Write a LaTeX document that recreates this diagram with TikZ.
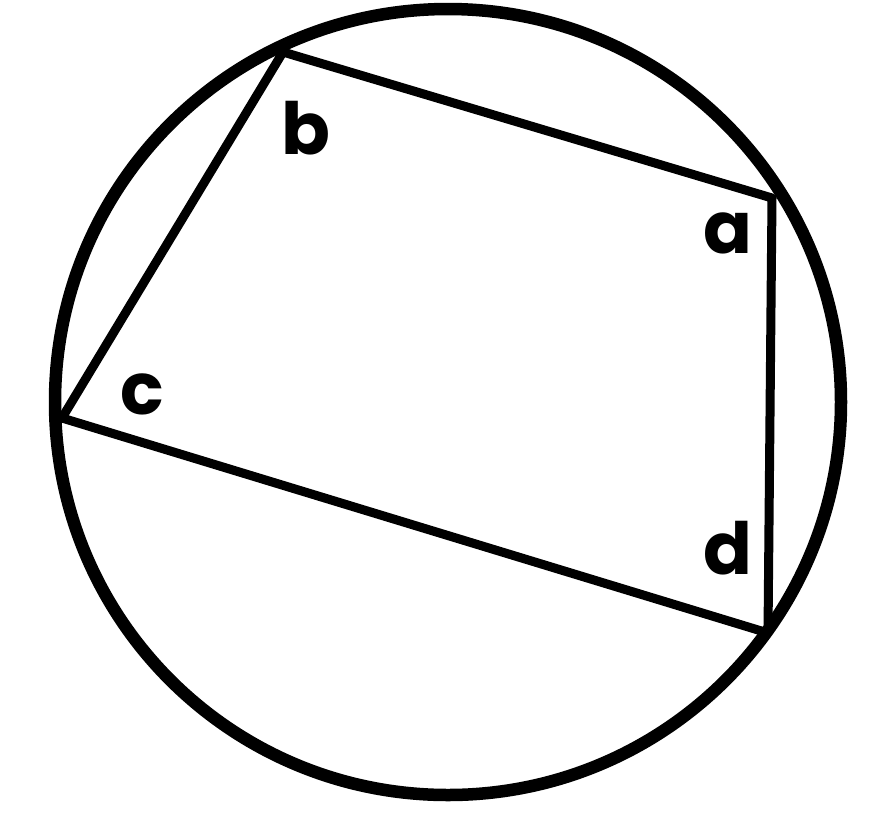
\documentclass[tikz,border=0pt]{standalone}
\usepackage{fontspec}
\setmainfont{Poppins}
\begin{document}
\begin{tikzpicture}[x=1pt,y=-1pt,
  rim/.style={line width=12.5pt},
  side/.style={line width=9pt, line join=round, line cap=round},
  lbl/.style={font=\fontsize{72}{72}\selectfont\bfseries, inner sep=0pt}]
\useasboundingbox (0,0) rectangle (889,823);
\node[draw, circle, rim, minimum size=786pt, inner sep=0pt] (circ) at (448,402) {};
\coordinate (B) at (283,52);
\coordinate (A) at (772,198);
\coordinate (D) at (768,633);
\coordinate (C) at (62,418);
\draw[side] (B) -- (A) -- (D) -- (C) -- cycle;
\node[lbl] (lb) at (306,128) {b};
\node[lbl] (la) at (728,233) {a};
\node[lbl] (lc) at (142,394) {c};
\node[lbl] (ld) at (728,548) {d};
\end{tikzpicture}
\end{document}
